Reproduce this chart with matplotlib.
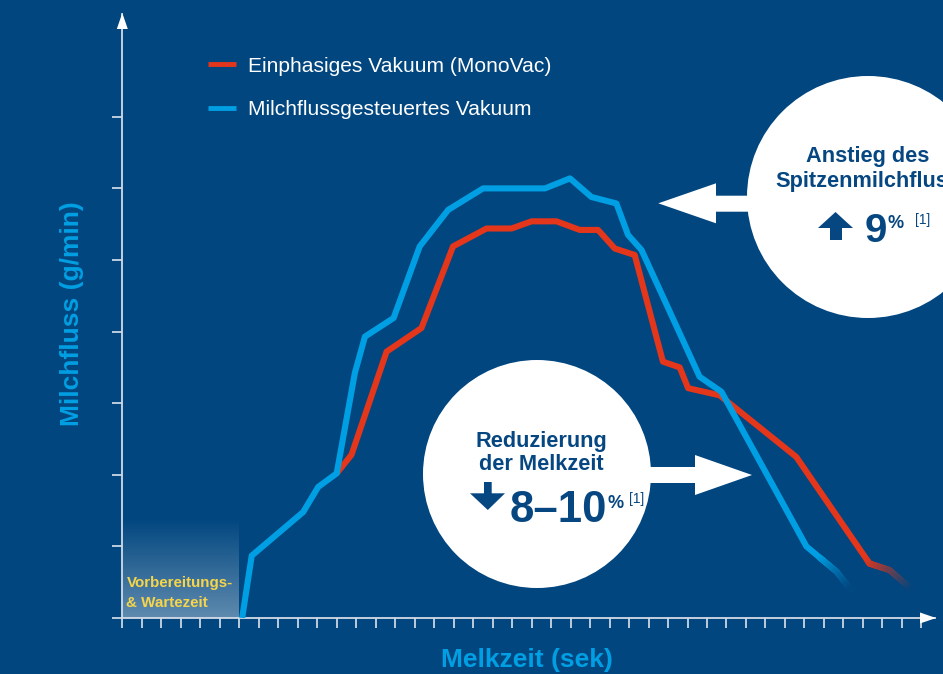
import numpy as np
import matplotlib
matplotlib.use('Agg')
import matplotlib.pyplot as plt
from matplotlib.collections import LineCollection
from matplotlib.patches import Circle, Polygon
from matplotlib.colors import to_rgb

plt.rcParams['font.family'] = ['Liberation Sans', 'DejaVu Sans']

# ---------------- data ----------------
time_blue = [6.15, 6.64, 9.28, 10.05, 11.0, 11.93, 12.45, 13.92, 15.26, 16.72, 18.51,
             21.69, 22.97, 24.07, 25.35, 25.95, 26.64, 29.62, 30.74, 35.1, 36.64, 37.4]
flow_blue = [0.0, 0.87, 1.48, 1.83, 2.02, 3.42, 3.93, 4.19, 5.19, 5.70, 6.00,
             6.00, 6.14, 5.88, 5.79, 5.35, 5.14, 3.37, 3.16, 1.0, 0.65, 0.39]
time_red = [11.0, 11.76, 13.56, 15.35, 16.97, 18.69, 19.97, 21.0, 22.28, 23.47, 24.41,
            25.27, 26.29, 27.74, 28.6, 29.03, 30.65, 34.58, 38.34, 39.36, 40.56]
flow_red = [2.02, 2.28, 3.72, 4.05, 5.19, 5.44, 5.44, 5.54, 5.54, 5.42, 5.42,
            5.16, 5.07, 3.58, 3.5, 3.21, 3.11, 2.25, 0.76, 0.67, 0.39]
x_ticks = list(range(42))
y_ticks = list(range(8))
prep_end = 6
prep_height = 1.41
legend_labels = ['Einphasiges Vakuum (MonoVac)', 'Milchflussgesteuertes Vakuum']
y_label = 'Milchfluss (g/min)'
x_label = 'Melkzeit (sek)'

# ---------------- styles ----------------
BG = '#01467f'
BLUE = '#009fe3'
RED = '#e3361b'
AXC = '#d3dbe6'
TICKC = '#eef2f7'
DARK = '#064781'
YELLOW = '#f6d54a'

W, H = 943, 674
fig = plt.figure(figsize=(W / 100, H / 100), dpi=100, facecolor=BG)

x0px, y0px = 122.3, 618.0
xunit, yunit = 19.49, 71.6
xtip, ytip = 935.0, 14.0
ax = fig.add_axes([x0px / W, (H - y0px) / H, (xtip - x0px) / W, (y0px - ytip) / H])
ax.patch.set_visible(False)

# gradient preparation zone
grad = np.zeros((100, 2, 4))
grad[..., :3] = 1.0
grad[..., 3] = np.linspace(0.37, 0.0, 100)[:, None]
ax.imshow(grad, extent=[0, prep_end, 0, prep_height], origin='lower',
          aspect='auto', zorder=1, interpolation='bilinear')

ax.set_xlim(0, (xtip - x0px) / xunit)
ax.set_ylim(0, (y0px - ytip) / yunit)
for s in ['top', 'right']:
    ax.spines[s].set_visible(False)
for s in ['left', 'bottom']:
    ax.spines[s].set_color(AXC)
    ax.spines[s].set_linewidth(1.3)
    ax.spines[s].set_zorder(2)
ax.set_xticks(x_ticks)
ax.set_yticks(y_ticks)
ax.tick_params(direction='out', length=7, width=1.1, color=TICKC,
               labelbottom=False, labelleft=False)


def faded_line(ax, xs, ys, color, fade_from, lw, z):
    xs = np.asarray(xs, float)
    ys = np.asarray(ys, float)
    yf = np.interp(fade_from, xs, ys)
    m = xs < fade_from
    sx = np.append(xs[m], fade_from)
    sy = np.append(ys[m], yf)
    ax.plot(sx, sy, color=color, lw=lw, solid_joinstyle='round',
            solid_capstyle='butt', zorder=z)
    fx = np.union1d(np.linspace(fade_from, xs[-1], 60), xs[~m])
    fy = np.interp(fx, xs, ys)
    pts = np.column_stack([fx, fy])
    segs = np.stack([pts[:-1], pts[1:]], axis=1)
    t = ((fx[:-1] + fx[1:]) / 2 - fade_from) / (xs[-1] - fade_from)
    c1 = np.array(to_rgb(color))
    c0 = np.array(to_rgb(BG))
    cols = [tuple(c1 * (1 - tt) + c0 * tt) for tt in t]
    lc = LineCollection(segs, colors=cols, linewidths=lw, capstyle='round',
                        joinstyle='round', zorder=z)
    ax.add_collection(lc)


faded_line(ax, time_red, flow_red, RED, 38.2, 4.4, 3)
faded_line(ax, time_blue, flow_blue, BLUE, 35.8, 4.4, 4)

# ---------------- overlay in pixel coordinates ----------------
ov = fig.add_axes([0, 0, 1, 1], zorder=5)
ov.set_xlim(0, W)
ov.set_ylim(H, 0)
ov.axis('off')
ov.patch.set_visible(False)

# axis arrowheads
ov.add_patch(Polygon([[x0px, 13], [x0px - 5.5, 29], [x0px + 5.5, 29]], closed=True,
                     facecolor='white', edgecolor='none'))
ov.add_patch(Polygon([[936, y0px], [920, y0px - 5.5], [920, y0px + 5.5]], closed=True,
                     facecolor='white', edgecolor='none'))

# legend
leg_y = [64.3, 107.7]
for lab, col, yy in zip(legend_labels, [RED, BLUE], leg_y):
    ov.plot([208, 236], [yy, yy], color=col, lw=3.5, solid_capstyle='butt')
    ov.text(248, yy + 7.3, lab, color='white', fontsize=15.1, va='baseline', ha='left')

# axis labels
ov.text(72.5, 314, y_label, rotation=90, color=BLUE, fontsize=19, fontweight='bold',
        ha='center', va='center')
ov.text(526.5, 667.3, x_label, color=BLUE, fontsize=19, fontweight='bold',
        ha='center', va='baseline')

# preparation label
ov.text(126.5, 587.3, 'Vorbereitungs-', color=YELLOW, fontsize=10.9, fontweight='bold',
        ha='left', va='baseline')
ov.text(126.5, 606.7, '& Wartezeit', color=YELLOW, fontsize=10.9, fontweight='bold',
        ha='left', va='baseline')

# circle 1 (peak flow)
ov.add_patch(Circle((868, 197), 121, facecolor='white', edgecolor='none'))
ov.add_patch(Polygon([[770, 195.7], [716, 195.7], [716, 183.3], [658.3, 203.3],
                      [716, 223.3], [716, 211.7], [770, 211.7]], closed=True,
                     facecolor='white', edgecolor='none'))
ov.text(868, 161.7, 'Anstieg des', color=DARK, fontsize=15.7, fontweight='bold',
        ha='center', va='baseline')
ov.text(868, 186.7, 'Spitzenmilchfluss', color=DARK, fontsize=15.7, fontweight='bold',
        ha='center', va='baseline')
ov.add_patch(Polygon([[835.5, 212], [818, 228], [830, 228], [830, 240], [842, 240],
                      [842, 228], [853, 228]], closed=True, facecolor=DARK, edgecolor='none'))
ov.text(887, 241.7, '9', color=DARK, fontsize=29, fontweight='bold', ha='right', va='baseline')
ov.text(888, 228, '%', color=DARK, fontsize=13, fontweight='bold', ha='left', va='baseline')
ov.text(915, 224, '[1]', color=DARK, fontsize=10, ha='left', va='baseline')

# circle 2 (milking time)
ov.add_patch(Circle((537, 474), 114, facecolor='white', edgecolor='none'))
ov.add_patch(Polygon([[640, 467], [695, 467], [695, 455], [752, 475], [695, 495],
                      [695, 483], [640, 483]], closed=True, facecolor='white', edgecolor='none'))
ov.text(541, 446.7, 'Reduzierung', color=DARK, fontsize=15.7, fontweight='bold',
        ha='center', va='baseline')
ov.text(541, 470, 'der Melkzeit', color=DARK, fontsize=15.7, fontweight='bold',
        ha='center', va='baseline')
ov.add_patch(Polygon([[484, 482], [491.7, 482], [491.7, 493.3], [505, 493.3], [487.8, 510],
                      [470, 493.3], [484, 493.3]], closed=True, facecolor=DARK, edgecolor='none'))
ov.text(607, 521.7, '8\u201310', color=DARK, fontsize=31.5, fontweight='bold',
        ha='right', va='baseline')
ov.text(607.5, 508, '%', color=DARK, fontsize=13, fontweight='bold', ha='left', va='baseline')
ov.text(629, 503, '[1]', color=DARK, fontsize=10, ha='left', va='baseline')

fig.savefig('out.png', dpi=100, facecolor=BG)
